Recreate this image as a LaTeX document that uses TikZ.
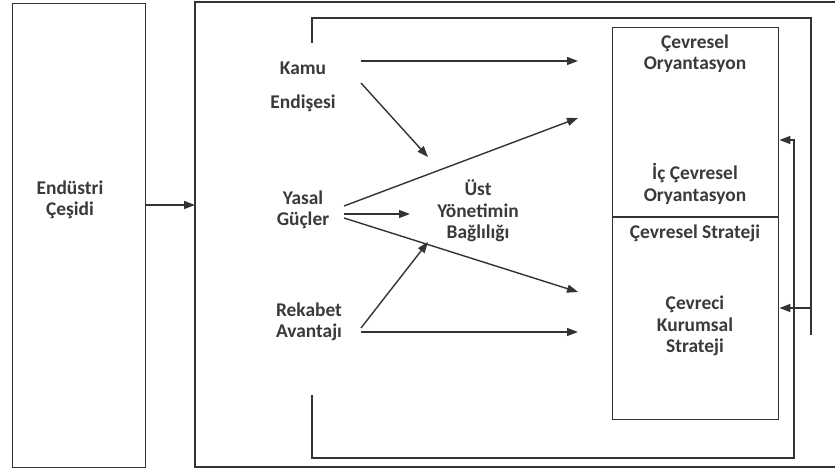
\documentclass[tikz,border=0pt]{standalone}
\usepackage{fontspec}
\setmainfont{Carlito}
\usetikzlibrary{arrows.meta}
\definecolor{ln}{HTML}{333333}
\definecolor{tx}{HTML}{3A3A3A}
\begin{document}
\begin{tikzpicture}[x=1bp,y=-1bp,
  lbl/.style={text=tx,font=\bfseries\fontsize{19.5}{21.5}\selectfont,align=center,inner sep=0pt},
  frame/.style={draw=ln,line width=1.4bp},
  conn/.style={draw=ln,line width=1.4bp},
  arr/.style={conn,-{Triangle[length=11bp,width=8bp]}}]
\useasboundingbox (0,0) rectangle (835,472);
\fill[white] (0,0) rectangle (835,472);
% left box
\node[frame,minimum width=133bp,minimum height=464bp,inner sep=0pt,anchor=north west] (lbox) at (12,3) {};
\node[lbl] (endustri) at (70,200) {Endüstri\\Çeşidi};
% big box (extends past right edge)
\draw[frame] (840,2) -- (195,2) -- (195,467) -- (840,467);
\coordinate (bigin) at (195,205);
\draw[arr] (lbox.east |- bigin) -- (bigin);
% right box
\node[frame,minimum width=166bp,minimum height=392bp,inner sep=0pt,anchor=north west] (rbox) at (612,27) {};
\coordinate (divL) at (612,217);
\draw[conn] (divL) -- (rbox.east |- divL);
\node[lbl] (cevor) at (695,54) {Çevresel\\Oryantasyon};
\node[lbl] (iccev) at (695,184) {İç Çevresel\\Oryantasyon};
\node[lbl] (cevstr) at (695,233) {Çevresel Strateji};
\node[lbl] (cevkur) at (695,326) {Çevreci\\Kurumsal\\Strateji};
% left labels
\node[lbl] (kamu) at (303,68) {Kamu};
\node[lbl] (endisesi) at (303,103) {Endişesi};
\node[lbl] (yasal) at (303,210) {Yasal\\Güçler};
\node[lbl] (rekabet) at (309,322) {Rekabet\\Avantajı};
\node[lbl] (ust) at (478,211) {Üst\\Yönetimin\\Bağlılığı};
% arrow end points
\coordinate (k1s) at (361,61);  \coordinate (k1e) at (578,61);
\coordinate (k2s) at (361,83);  \coordinate (k2e) at (428,157);
\coordinate (y1s) at (344,206); \coordinate (y1e) at (578,118);
\coordinate (y2s) at (344,214); \coordinate (y2e) at (410,214);
\coordinate (y3s) at (344,218); \coordinate (y3e) at (578,292);
\coordinate (r1s) at (361,328); \coordinate (r1e) at (428,242);
\coordinate (r2s) at (361,332); \coordinate (r2e) at (578,332);
\draw[arr] (k1s) -- (k1e);
\draw[arr] (k2s) -- (k2e);
\draw[arr] (y1s) -- (y1e);
\draw[arr] (y2s) -- (y2e);
\draw[arr] (y3s) -- (y3e);
\draw[arr] (r1s) -- (r1e);
\draw[arr] (r2s) -- (r2e);
% feedback loops
\coordinate (f1s) at (312,43);
\coordinate (f1c) at (811,18);
\coordinate (f1b) at (811,335);
\coordinate (f1a) at (811,308);
\draw[conn] (f1s) -- (f1s |- f1c) -- (f1c) -- (f1b);
\draw[arr] (f1a) -- (rbox.east |- f1a);
\coordinate (f2s) at (312,395);
\coordinate (f2c) at (794,458);
\coordinate (f2t) at (794,140);
\draw[arr] (f2s) -- (f2s |- f2c) -- (f2c) -- (f2t) -- (rbox.east |- f2t);
\end{tikzpicture}
\end{document}
